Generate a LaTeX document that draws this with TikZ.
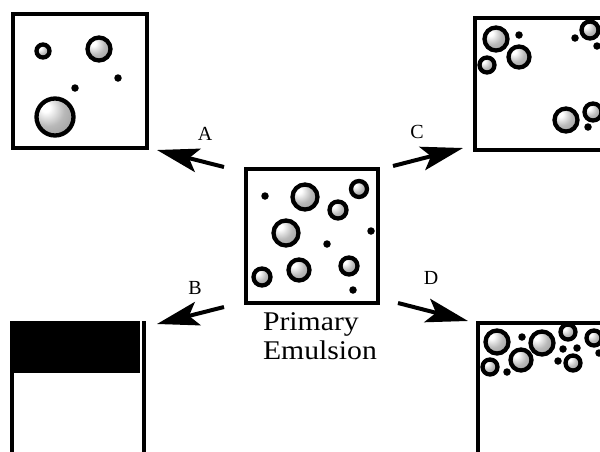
\documentclass[tikz,border=0pt]{standalone}
\usepackage{fontspec}
\setmainfont{Liberation Serif}
\usetikzlibrary{arrows.meta,shadings}

% sphere shading, bright spot up and left
\pgfdeclareradialshading{droplet}{\pgfpoint{-14bp}{14bp}}{%
  color(0bp)=(white); color(6bp)=(white); color(22bp)=(gray!55);
  color(40bp)=(gray!80); color(70bp)=(gray)}

\begin{document}
\begin{tikzpicture}[x=1pt,y=-1pt]
			\tikzstyle{Bubble}	= [circle, draw, line width=4.3pt, shading=droplet, inner sep=0pt]
			\tikzstyle{Drop}	= [circle, fill=black, minimum size=7.5pt, inner sep=0pt]
			\tikzstyle{Wall}	= [line width=3.5pt]
			\tikzstyle{Flow}	= [line width=4pt, -{Stealth[length=42pt, width=24pt, inset=9pt]}]
			\tikzstyle{Tag}		= [font=\fontsize{20}{20}\selectfont]

			\useasboundingbox (0,0) rectangle (600,451);
			\clip (0,0) rectangle (600,451);

			% primary emulsion
			\draw [Wall] (246,169) rectangle (378,303);
			\node (p1) at (305,197) [Bubble, minimum size=25pt] {};
			\node (p2) at (359,189) [Bubble, minimum size=16pt] {};
			\node (p3) at (338,210) [Bubble, minimum size=17pt] {};
			\node (p4) at (286,233) [Bubble, minimum size=25pt] {};
			\node (p5) at (299,270) [Bubble, minimum size=21pt] {};
			\node (p6) at (262,277) [Bubble, minimum size=17pt] {};
			\node (p7) at (349,266) [Bubble, minimum size=17pt] {};
			\node (p8) at (265,196) [Drop] {};
			\node (p9) at (371,231) [Drop] {};
			\node (p10) at (327,244) [Drop] {};
			\node (p11) at (353,290) [Drop] {};
			\node (name) at (320,336) [align=left, xscale=1.1, font=\fontsize{27}{29}\selectfont] {Primary\\Emulsion};

			% A
			\draw [Wall] (13,14) rectangle (147,148);
			\node (a1) at (43,51) [Bubble, minimum size=13pt] {};
			\node (a2) at (99,49) [Bubble, minimum size=23pt] {};
			\node (a3) at (55,117) [Bubble, minimum size=37pt] {};
			\node (a4) at (118,78) [Drop] {};
			\node (a5) at (75,88) [Drop] {};

			% C
			\draw [Wall] (475,18) rectangle (640,150);
			\node (c1) at (496,39) [Bubble, minimum size=23pt] {};
			\node (c2) at (519,57) [Bubble, minimum size=21pt] {};
			\node (c3) at (487,65) [Bubble, minimum size=15pt] {};
			\node (c4) at (519,35) [Drop] {};
			\node (c5) at (590,30) [Bubble, minimum size=17pt] {};
			\node (c6) at (575,38) [Drop] {};
			\node (c7) at (597,46) [Drop] {};
			\node (c8) at (566,120) [Bubble, minimum size=23pt] {};
			\node (c9) at (593,112) [Bubble, minimum size=17pt] {};
			\node (c10) at (588,127) [Drop] {};

			% B
			\fill (10,321) rectangle (140,373);
			\draw [Wall] (12,321) -- (12,460);
			\draw [Wall] (144,321) -- (144,460);

			% D
			\draw [Wall] (478,460) -- (478,323) -- (640,323);
			\node (d1) at (497,342) [Bubble, minimum size=23pt] {};
			\node (d2) at (542,343) [Bubble, minimum size=23pt] {};
			\node (d3) at (521,360) [Bubble, minimum size=21pt] {};
			\node (d4) at (490,367) [Bubble, minimum size=15pt] {};
			\node (d5) at (568,332) [Bubble, minimum size=15pt] {};
			\node (d6) at (573,363) [Bubble, minimum size=15pt] {};
			\node (d7) at (594,338) [Bubble, minimum size=15pt] {};
			\node (d8) at (522,337) [Drop] {};
			\node (d9) at (507,372) [Drop] {};
			\node (d10) at (563,349) [Drop] {};
			\node (d11) at (577,348) [Drop] {};
			\node (d12) at (558,361) [Drop] {};
			\node (d13) at (599,353) [Drop] {};

			% arrows out of the primary emulsion
			\coordinate (sA) at (224,167);
			\coordinate (eA) at (157,150);
			\coordinate (sB) at (224,307);
			\coordinate (eB) at (157,324);
			\coordinate (sC) at (393,166);
			\coordinate (eC) at (463,148);
			\coordinate (sD) at (398,303);
			\coordinate (eD) at (468,321);

			\draw (sA) to (eA) [Flow];
			\draw (sB) to (eB) [Flow];
			\draw (sC) to (eC) [Flow];
			\draw (sD) to (eD) [Flow];

			\node (tA) at (205,134) [Tag] {A};
			\node (tB) at (195,288) [Tag] {B};
			\node (tC) at (417,132) [Tag] {C};
			\node (tD) at (431,278) [Tag] {D};
		\end{tikzpicture}
\end{document}
